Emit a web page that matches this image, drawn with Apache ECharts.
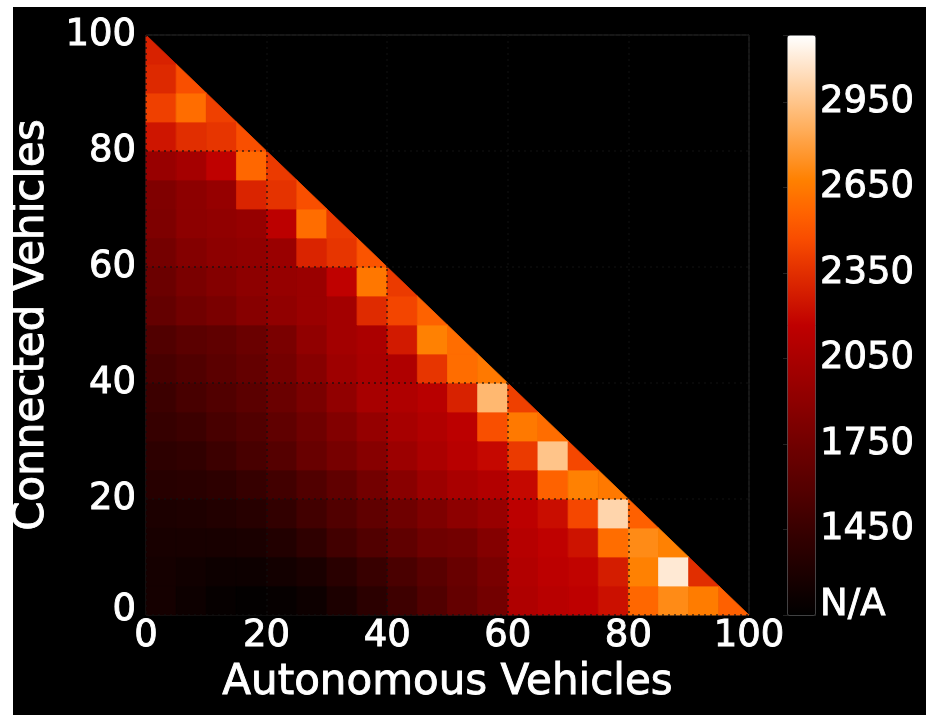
<!DOCTYPE html>
<html>
<head>
<meta charset="utf-8">
<script src="https://cdn.jsdelivr.net/npm/echarts@6/dist/echarts.min.js"></script>
<style>
html,body{margin:0;padding:0;background:#fff;}
#frame{position:absolute;left:13px;top:7px;width:913px;height:708px;background:#000;}
#chart{position:absolute;left:0;top:0;width:930px;height:715px;}
</style>
</head>
<body>
<div id="frame"></div>
<div id="chart"></div>
<script>
// ---- data ----
const cellSize = 5;            // each cell spans 5 vehicles on both axes
const totalVehicles = 100;     // x + y cannot exceed this
const xBinStarts = [0,5,10,15,20,25,30,35,40,45,50,55,60,65,70,75,80,85,90,95];
const yBinStarts = [0,5,10,15,20,25,30,35,40,45,50,55,60,65,70,75,80,85,90,95];

// values per row of cells (connected vehicles bin), left to right (autonomous bins)
const rowY00 = [1260,1220,1180,1165,1180,1220,1300,1380,1480,1580,1680,1760,2080,2130,2160,2230,2580,2720,2660,2550];
const rowY05 = [1260,1240,1220,1220,1250,1290,1370,1450,1540,1620,1700,1790,2100,2150,2180,2280,2680,3100,2350];
const rowY10 = [1280,1280,1280,1290,1330,1400,1500,1580,1660,1740,1760,1850,2120,2170,2240,2600,2720,2680];
const rowY15 = [1300,1310,1330,1360,1420,1500,1580,1660,1740,1820,1900,1960,2150,2220,2450,3020,2550];
const rowY20 = [1360,1370,1390,1440,1500,1580,1660,1760,1880,1980,2050,2100,2200,2560,2680,2650];
const rowY25 = [1390,1410,1470,1530,1600,1700,1780,1870,1980,2060,2130,2200,2400,2950,2450];
const rowY30 = [1440,1470,1530,1580,1660,1740,1840,1940,2040,2090,2150,2480,2650,2600];
const rowY35 = [1470,1530,1580,1630,1710,1800,1920,2040,2080,2130,2300,2900,2420];
const rowY40 = [1530,1580,1630,1680,1770,1870,1990,2050,2080,2380,2600,2650];
const rowY45 = [1580,1630,1660,1710,1800,1920,2020,2060,2270,2680,2600];
const rowY50 = [1680,1750,1800,1870,1920,1970,2020,2340,2440,2560];
const rowY55 = [1720,1800,1850,1900,1950,1970,2170,2640,2400];
const rowY60 = [1770,1850,1900,1920,1970,2310,2380,2500];
const rowY65 = [1820,1900,1920,1950,2150,2600,2400];
const rowY70 = [1830,1900,1950,2310,2370,2480];
const rowY75 = [1960,2030,2170,2580,2400];
const rowY80 = [2250,2350,2380,2480];
const rowY85 = [2420,2600,2420];
const rowY90 = [2330,2480];
const rowY95 = [2300];
const rows = [rowY00,rowY05,rowY10,rowY15,rowY20,rowY25,rowY30,rowY35,rowY40,rowY45,
              rowY50,rowY55,rowY60,rowY65,rowY70,rowY75,rowY80,rowY85,rowY90,rowY95];

const axisTicks = [0, 20, 40, 60, 80, 100];
const colorMin = 1150;
const colorMax = 3185;
const colorTickValues = [1150, 1450, 1750, 2050, 2350, 2650, 2950];
const colorTickLabels = ['N/A', '1450', '1750', '2050', '2350', '2650', '2950'];
const xName = 'Autonomous Vehicles';
const yName = 'Connected Vehicles';

// ---- build ----
const cells = [];
rows.forEach((vals, j) => vals.forEach((v, i) => cells.push([xBinStarts[i], yBinStarts[j], v])));

// gist_heat-like colour ramp
const heatStops = [];
for (let k = 0; k <= 20; k++) {
  const t = k / 20;
  const r = Math.min(1, 1.5 * t), g = Math.max(0, Math.min(1, 2 * t - 1)), b = Math.max(0, Math.min(1, 4 * t - 3));
  heatStops.push('rgb(' + Math.round(r * 255) + ',' + Math.round(g * 255) + ',' + Math.round(b * 255) + ')');
}

function clipToTotal(poly, L) {
  const out = [];
  for (let k = 0; k < poly.length; k++) {
    const a = poly[k], b = poly[(k + 1) % poly.length];
    const fa = a[0] + a[1] - L, fb = b[0] + b[1] - L;
    if (fa <= 0) out.push(a);
    if ((fa < 0 && fb > 0) || (fa > 0 && fb < 0)) {
      const t = fa / (fa - fb);
      out.push([a[0] + t * (b[0] - a[0]), a[1] + t * (b[1] - a[1])]);
    }
  }
  return out;
}

const FONT = 'DejaVu Sans';
const TXT = {color: '#fff', fontFamily: FONT, textBorderColor: '#fff', textBorderWidth: 0.9};
const chart = echarts.init(document.getElementById('chart'), null, {renderer: 'canvas'});

chart.setOption({
  backgroundColor: 'transparent',
  animation: false,
  textStyle: {fontFamily: FONT, color: '#fff'},
  grid: [
    {left: 146, top: 35, width: 603, height: 580, show: true, borderColor: '#2e2e2e', borderWidth: 1, backgroundColor: 'transparent'},
    {left: 787, top: 35, width: 28, height: 580, show: false}
  ],
  xAxis: [
    {
      type: 'value', gridIndex: 0, min: axisTicks[0], max: axisTicks[axisTicks.length - 1],
      interval: axisTicks[1] - axisTicks[0], z: 10,
      name: xName, nameLocation: 'middle', nameGap: 47,
      nameTextStyle: Object.assign({fontSize: 42}, TXT),
      axisLine: {show: false}, axisTick: {show: false},
      axisLabel: Object.assign({fontSize: 37, margin: 3}, TXT),
      splitLine: {show: true, lineStyle: {color: 'rgba(15,15,15,0.8)', width: 1.5, type: [2, 4]}}
    },
    {type: 'value', gridIndex: 1, min: 0, max: 1, show: false}
  ],
  yAxis: [
    {
      type: 'value', gridIndex: 0, min: axisTicks[0], max: axisTicks[axisTicks.length - 1],
      interval: axisTicks[1] - axisTicks[0], z: 10,
      name: yName, nameLocation: 'middle', nameGap: 85,
      nameTextStyle: Object.assign({fontSize: 42}, TXT),
      axisLine: {show: false}, axisTick: {show: false},
      axisLabel: Object.assign({
        fontSize: 37, margin: 10,
        formatter: v => v === 0 ? '{z|0}' : String(v),
        rich: {z: Object.assign({fontSize: 37, padding: [0, 0, 10, 0]}, TXT)}
      }, TXT),
      splitLine: {show: true, lineStyle: {color: 'rgba(15,15,15,0.8)', width: 1.5, type: [2, 4]}}
    },
    {
      type: 'value', gridIndex: 1, position: 'right', min: colorMin, max: colorMax,
      interval: colorTickValues[1] - colorTickValues[0], z: 10,
      axisLine: {show: false},
      axisTick: {show: true, inside: true, length: 4, lineStyle: {color: '#222', width: 1}},
      splitLine: {show: false},
      axisLabel: Object.assign({
        fontSize: 37, margin: 5,
        formatter: v => {
          const idx = colorTickValues.indexOf(Math.round(v));
          if (idx < 0) return '';
          return idx === 0 ? '{na|' + colorTickLabels[idx] + '}' : colorTickLabels[idx];
        },
        rich: {na: Object.assign({fontSize: 37, padding: [0, 0, 20, 0]}, TXT)}
      }, TXT)
    }
  ],
  visualMap: {
    type: 'continuous', seriesIndex: 0, dimension: 2,
    min: colorMin, max: colorMax, calculable: false, realtime: false,
    orient: 'vertical', left: 787, top: 35, itemWidth: 28, itemHeight: 580,
    padding: 0, borderColor: '#2e2e2e', borderWidth: 1,
    textStyle: {color: '#fff'},
    inRange: {color: heatStops}
  },
  series: [{
    type: 'custom', xAxisIndex: 0, yAxisIndex: 0,
    data: cells,
    encode: {x: 0, y: 1},
    renderItem: function (params, api) {
      const x0 = api.value(0), y0 = api.value(1);
      const square = [[x0, y0], [x0 + cellSize, y0], [x0 + cellSize, y0 + cellSize], [x0, y0 + cellSize]];
      const pts = clipToTotal(square, totalVehicles).map(p => api.coord(p));
      const c = api.visual('color');
      return {type: 'polygon', shape: {points: pts}, style: {fill: c, stroke: c, lineWidth: 0.8}};
    }
  }]
});
</script>
</body>
</html>
